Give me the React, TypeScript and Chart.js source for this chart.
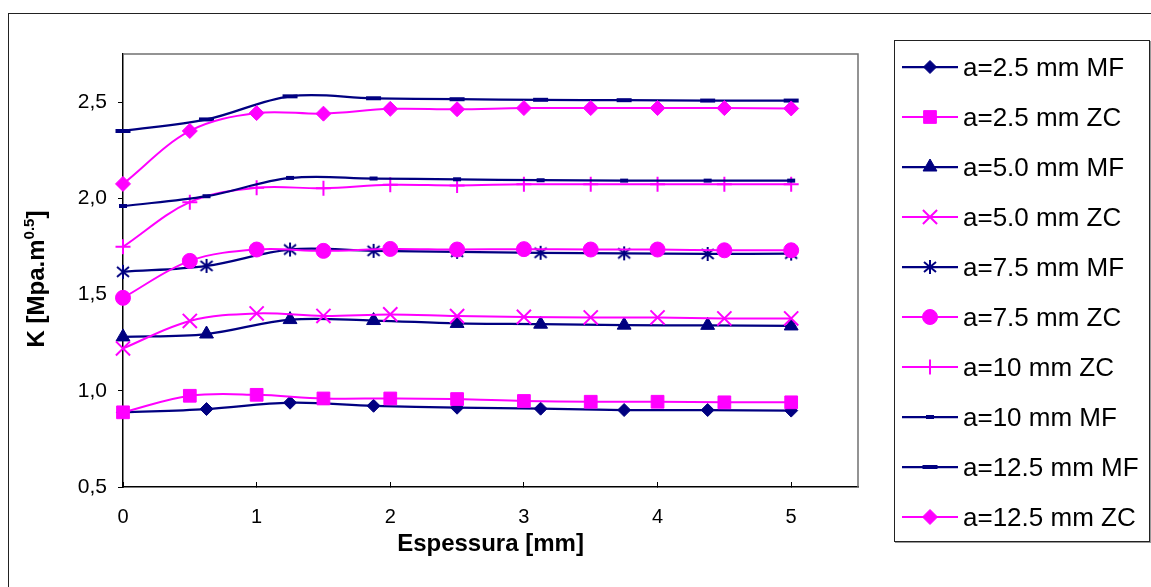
import React, { useEffect, useRef } from 'react';
import { Chart, registerables } from 'chart.js';
import { drawPoint } from 'chart.js/helpers';

Chart.register(...registerables);

// ---------- data ----------
const xMF = [0, 0.625, 1.25, 1.875, 2.5, 3.125, 3.75, 4.375, 5];
const xZC = [0, 0.5, 1, 1.5, 2, 2.5, 3, 3.5, 4, 4.5, 5];

const a25MF = [0.888, 0.905, 0.938, 0.922, 0.912, 0.907, 0.9, 0.9, 0.897];
const a25ZC = [0.888, 0.974, 0.979, 0.96, 0.96, 0.957, 0.947, 0.943, 0.943, 0.94, 0.94];
const a50MF = [1.28, 1.295, 1.37, 1.365, 1.35, 1.346, 1.341, 1.34, 1.337];
const a50ZC = [1.22, 1.363, 1.402, 1.389, 1.397, 1.388, 1.384, 1.381, 1.381, 1.376, 1.376];
const a75MF = [1.618, 1.649, 1.734, 1.727, 1.722, 1.717, 1.714, 1.711, 1.713];
const a75ZC = [1.483, 1.675, 1.734, 1.727, 1.737, 1.734, 1.736, 1.734, 1.734, 1.73, 1.73];
const a10ZC = [1.748, 1.98, 2.055, 2.052, 2.07, 2.067, 2.073, 2.073, 2.073, 2.073, 2.073];
const a10MF = [1.96, 2.011, 2.106, 2.103, 2.099, 2.094, 2.092, 2.092, 2.092];
const a125MF = [2.35, 2.41, 2.53, 2.52, 2.515, 2.512, 2.51, 2.508, 2.508];
const a125ZC = [2.075, 2.35, 2.443, 2.44, 2.465, 2.463, 2.469, 2.469, 2.469, 2.469, 2.467];

const seriesLabels = [
  'a=2.5 mm MF',
  'a=2.5 mm ZC',
  'a=5.0 mm MF',
  'a=5.0 mm ZC',
  'a=7.5 mm MF',
  'a=7.5 mm ZC',
  'a=10 mm ZC',
  'a=10 mm MF',
  'a=12.5 mm MF',
  'a=12.5 mm ZC',
];

const xTicks = [0, 1, 2, 3, 4, 5];
const yTicks = [0.5, 1.0, 1.5, 2.0, 2.5];
const yTickLabels = ['0,5', '1,0', '1,5', '2,0', '2,5'];

const xTitle = 'Espessura [mm]';
const yTitleMain = 'K [Mpa.m';
const yTitleSup = '0.5';
const yTitleEnd = ']';

// ---------- styles ----------
const NAVY = '#000080';
const MAG = '#FF00FF';
const FONT = '"Liberation Sans", Arial, Helvetica, sans-serif';

function makeAsterisk(color: string) {
  const c = document.createElement('canvas');
  c.width = 16;
  c.height = 16;
  const g = c.getContext('2d')!;
  g.strokeStyle = color;
  g.lineWidth = 2;
  g.beginPath();
  g.moveTo(8, 1);
  g.lineTo(8, 15);
  g.moveTo(2, 3);
  g.lineTo(14, 13);
  g.moveTo(14, 3);
  g.lineTo(2, 13);
  g.stroke();
  return c;
}

type Style = { color: string; lw: number; ps: any; r: number; bw: number };

function buildStyles(): Style[] {
  const ast = makeAsterisk(NAVY);
  return [
    { color: NAVY, lw: 2.25, ps: 'rectRot', r: 6.5, bw: 1 },
    { color: MAG, lw: 2, ps: 'rect', r: 9, bw: 1 },
    { color: NAVY, lw: 2.25, ps: 'triangle', r: 8, bw: 1 },
    { color: MAG, lw: 2, ps: 'crossRot', r: 10, bw: 2 },
    { color: NAVY, lw: 2.25, ps: ast, r: 7, bw: 2 },
    { color: MAG, lw: 2, ps: 'circle', r: 7.5, bw: 1 },
    { color: MAG, lw: 2, ps: 'cross', r: 7.5, bw: 2 },
    { color: NAVY, lw: 2.25, ps: 'line', r: 4, bw: 4 },
    { color: NAVY, lw: 2.25, ps: 'line', r: 7.5, bw: 4 },
    { color: MAG, lw: 2, ps: 'rectRot', r: 7.5, bw: 1 },
  ];
}

const seriesData = [a25MF, a25ZC, a50MF, a50ZC, a75MF, a75ZC, a10ZC, a10MF, a125MF, a125ZC];
const seriesX = [xMF, xZC, xMF, xZC, xMF, xZC, xZC, xMF, xMF, xZC];

const plotFramePlugin = {
  id: 'plotFrame',
  beforeDatasetsDraw(chart: any) {
    const { ctx, chartArea: a } = chart;
    ctx.save();
    ctx.strokeStyle = '#707070';
    ctx.lineWidth = 1.5;
    ctx.beginPath();
    ctx.moveTo(a.left, a.top);
    ctx.lineTo(a.right, a.top);
    ctx.lineTo(a.right, a.bottom);
    ctx.stroke();
    ctx.restore();
  },
};

const yTitlePlugin = {
  id: 'yTitle',
  afterDraw(chart: any) {
    const ctx = chart.ctx as CanvasRenderingContext2D;
    const mainFont = `bold 24px ${FONT}`;
    const supFont = `bold 15px ${FONT}`;
    ctx.save();
    ctx.translate(44, 279);
    ctx.rotate(-Math.PI / 2);
    ctx.fillStyle = '#000';
    ctx.textAlign = 'left';
    ctx.textBaseline = 'alphabetic';
    ctx.font = mainFont;
    const w1 = ctx.measureText(yTitleMain).width;
    const w3 = ctx.measureText(yTitleEnd).width;
    ctx.font = supFont;
    const w2 = ctx.measureText(yTitleSup).width;
    let x = -(w1 + w2 + w3) / 2;
    ctx.font = mainFont;
    ctx.fillText(yTitleMain, x, 0);
    x += w1;
    ctx.font = supFont;
    ctx.fillText(yTitleSup, x, -10);
    x += w2;
    ctx.font = mainFont;
    ctx.fillText(yTitleEnd, x, 0);
    ctx.restore();
  },
};

function LegendSymbol({ st }: { st: Style }) {
  const ref = useRef<HTMLCanvasElement>(null);
  useEffect(() => {
    const c = ref.current!;
    const g = c.getContext('2d')!;
    g.clearRect(0, 0, c.width, c.height);
    g.strokeStyle = st.color;
    g.fillStyle = st.color;
    g.lineWidth = st.lw;
    g.beginPath();
    g.moveTo(0, 12);
    g.lineTo(56, 12);
    g.stroke();
    g.lineWidth = st.bw;
    drawPoint(g, { pointStyle: st.ps, radius: st.r, borderWidth: st.bw, rotation: 0 } as any, 28, 12);
  }, [st]);
  return <canvas ref={ref} width={56} height={24} style={{ width: 56, height: 24, display: 'block' }} />;
}

export default function App() {
  const canvasRef = useRef<HTMLCanvasElement>(null);
  const stylesRef = useRef<Style[] | null>(null);
  if (!stylesRef.current && typeof document !== 'undefined') stylesRef.current = buildStyles();
  const styles = stylesRef.current!;

  useEffect(() => {
    const canvas = canvasRef.current!;
    const datasets = seriesData.map((vals, i) => {
      const st = styles[i];
      return {
        label: seriesLabels[i],
        data: vals.map((v, j) => ({ x: seriesX[i][j], y: v })),
        borderColor: st.color,
        backgroundColor: st.color,
        borderWidth: st.lw,
        pointStyle: st.ps,
        pointRadius: st.r,
        pointBorderWidth: st.bw,
        pointBackgroundColor: st.color,
        pointBorderColor: st.color,
        tension: 0.35,
        fill: false,
        clip: false as any,
        order: -i,
      };
    });

    const chart = new Chart(canvas, {
      type: 'line',
      data: { datasets },
      options: {
        animation: false,
        responsive: false,
        maintainAspectRatio: false,
        events: [],
        layout: { autoPadding: false, padding: { left: 0, top: 54, right: 22, bottom: 0 } },
        plugins: { legend: { display: false }, tooltip: { enabled: false }, title: { display: false } },
        scales: {
          x: {
            type: 'linear',
            min: 0,
            max: 5.5,
            afterBuildTicks: (s: any) => {
              s.ticks = xTicks.map((v) => ({ value: v }));
            },
            afterFit: (s: any) => {
              s.height = 100;
            },
            border: { display: true, color: '#000', width: 1.5 },
            grid: { display: true, drawOnChartArea: false, drawTicks: true, tickLength: -5, color: '#000', lineWidth: 1 },
            ticks: {
              autoSkip: false,
              maxRotation: 0,
              padding: 23,
              color: '#000',
              font: { family: FONT, size: 20 },
              callback: (v: any) => String(v),
            },
            title: {
              display: true,
              text: xTitle,
              color: '#000',
              font: { family: FONT, size: 24, weight: 'bold' },
              padding: { top: 0, bottom: 28.6 },
            },
          },
          y: {
            type: 'linear',
            min: 0.5,
            max: 2.75,
            afterBuildTicks: (s: any) => {
              s.ticks = yTicks.map((v) => ({ value: v }));
            },
            afterFit: (s: any) => {
              s.width = 123;
            },
            border: { display: true, color: '#000', width: 1.5 },
            grid: { display: true, drawOnChartArea: false, drawTicks: true, tickLength: 5, color: '#000', lineWidth: 1 },
            ticks: {
              autoSkip: false,
              padding: 11,
              color: '#000',
              font: { family: FONT, size: 21 },
              callback: (_v: any, i: number) => yTickLabels[i],
            },
          },
        },
      },
      plugins: [plotFramePlugin, yTitlePlugin],
    });
    return () => chart.destroy();
  }, []);

  return (
    <div
      style={{
        position: 'fixed',
        left: 0,
        top: 0,
        width: 1151,
        height: 587,
        overflow: 'hidden',
        background: '#fff',
        fontFamily: FONT,
      }}
    >
      <div
        style={{
          position: 'absolute',
          left: 8,
          top: 13,
          width: 1160,
          height: 700,
          border: '1px solid #222',
          boxSizing: 'border-box',
        }}
      />
      <canvas
        ref={canvasRef}
        width={880}
        height={587}
        style={{ position: 'absolute', left: 0, top: 0, width: 880, height: 587 }}
      />
      <div
        style={{
          position: 'absolute',
          left: 894,
          top: 40,
          width: 256,
          height: 502,
          border: '1px solid #222',
          boxSizing: 'border-box',
          boxShadow: '1px 1px 0 #999',
          background: '#fff',
        }}
      >
        {seriesLabels.map((lab, i) => (
          <div
            key={lab}
            style={{
              position: 'absolute',
              left: 7,
              top: 1 + 50 * i,
              height: 50,
              display: 'flex',
              alignItems: 'center',
              whiteSpace: 'nowrap',
            }}
          >
            <LegendSymbol st={styles[i]} />
            <span style={{ marginLeft: 5, fontSize: 26, color: '#000', lineHeight: '50px' }}>{lab}</span>
          </div>
        ))}
      </div>
    </div>
  );
}
